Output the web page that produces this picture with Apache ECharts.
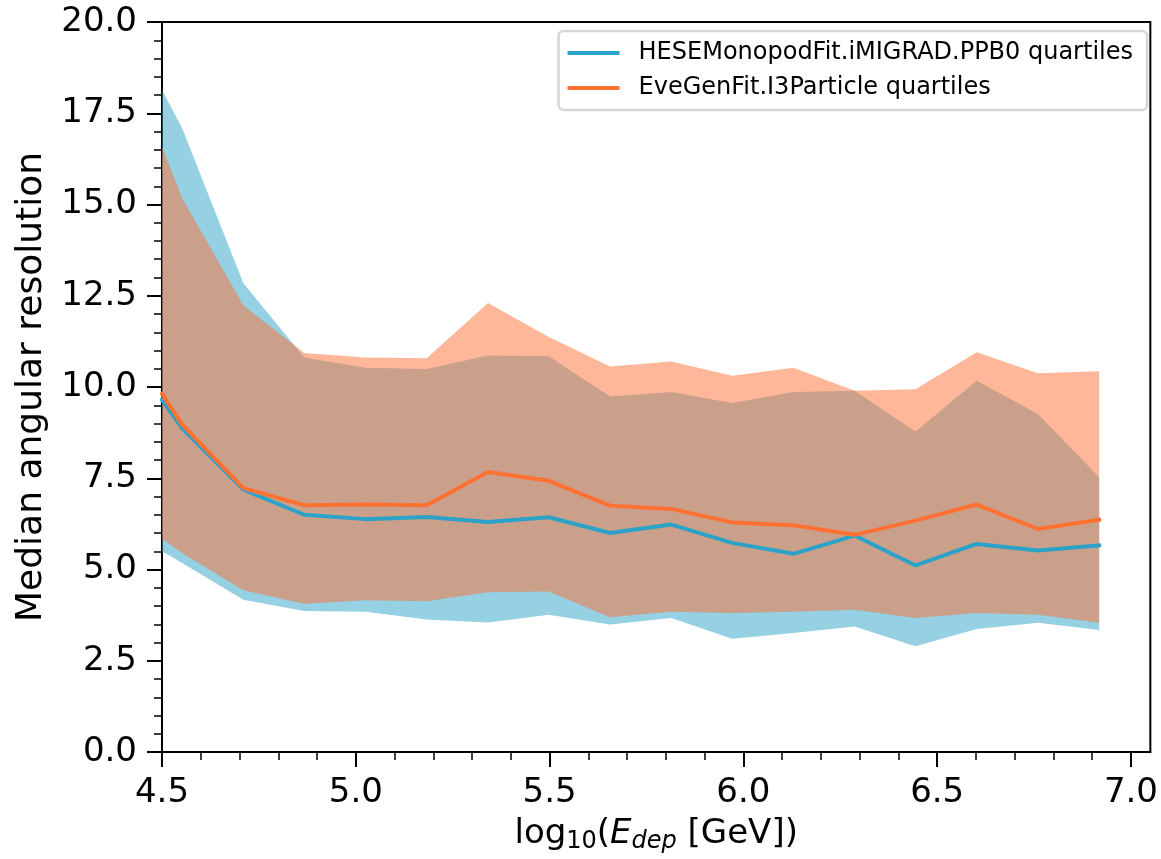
<!DOCTYPE html>
<html>
<head>
<meta charset="utf-8">
<title>Median angular resolution</title>
<script src="https://cdn.jsdelivr.net/npm/echarts@6/dist/echarts.min.js"></script>
<style>
  html, body { margin: 0; padding: 0; background: #ffffff; }
  #chart { width: 1161px; height: 859px; }
</style>
</head>
<body>
<div id="chart"></div>
<script>
// log10 of deposited energy at each bin centre
const logE = [4.5, 4.552, 4.710, 4.867, 5.025, 5.183, 5.341, 5.498, 5.656,
              5.814, 5.971, 6.129, 6.287, 6.444, 6.602, 6.760, 6.918];

// HESEMonopodFit.iMIGRAD.PPB0: 25%, 50%, 75% quantiles
const heseLow = [5.50, 5.18, 4.17, 3.86, 3.84, 3.63, 3.55, 3.76, 3.49,
                 3.67, 3.10, 3.26, 3.44, 2.90, 3.37, 3.54, 3.34];
const heseMed = [9.65, 8.87, 7.19, 6.50, 6.38, 6.44, 6.30, 6.43, 6.00,
                 6.23, 5.73, 5.43, 5.93, 5.11, 5.70, 5.52, 5.66];
const heseHigh = [18.14, 17.09, 12.84, 10.81, 10.53, 10.49, 10.86, 10.84, 9.74,
                  9.86, 9.56, 9.86, 9.90, 8.78, 10.17, 9.26, 7.53];

// EveGenFit.I3Particle: 25%, 50%, 75% quantiles
const eveLow = [5.84, 5.45, 4.43, 4.06, 4.16, 4.13, 4.38, 4.40, 3.69,
                3.84, 3.81, 3.84, 3.90, 3.67, 3.81, 3.76, 3.54];
const eveMed = [9.81, 8.97, 7.23, 6.76, 6.78, 6.76, 7.67, 7.43, 6.75,
                6.66, 6.29, 6.21, 5.95, 6.34, 6.78, 6.11, 6.36];
const eveHigh = [16.58, 15.17, 12.23, 10.93, 10.81, 10.79, 12.30, 11.37, 10.56,
                 10.70, 10.31, 10.53, 9.90, 9.94, 10.95, 10.38, 10.43];

const xTicks = [4.5, 5.0, 5.5, 6.0, 6.5, 7.0];

const HESE_NAME = 'HESEMonopodFit.iMIGRAD.PPB0 quartiles';
const EVE_NAME = 'EveGenFit.I3Particle quartiles';
const HESE_COLOR = '#2ca2c8';
const EVE_COLOR = '#ff7033';
const FONT = 'DejaVu Sans';

const pairs = (xs, ys) => xs.map((x, i) => [x, ys[i]]);

// quartile band drawn as one filled polygon: upper edge forward, lower edge back
function band(id, low, high, color) {
  const rows = logE.map((x, i) => [x, low[i], high[i]]);
  return {
    name: id, type: 'custom', silent: true,
    data: rows,
    encode: { x: 0, y: [1, 2] },
    renderItem: function (params, api) {
      if (params.dataIndex !== 0) return null;
      const pts = [];
      for (let i = 0; i < rows.length; i++) pts.push(api.coord([rows[i][0], rows[i][2]]));
      for (let i = rows.length - 1; i >= 0; i--) pts.push(api.coord([rows[i][0], rows[i][1]]));
      return {
        type: 'polygon',
        shape: { points: pts },
        style: { fill: color, opacity: 0.5, stroke: null }
      };
    }
  };
}

function medianLine(name, values, color) {
  return {
    name: name, type: 'line', data: pairs(logE, values), symbol: 'none',
    color: color, lineStyle: { color: color, width: 4, cap: 'square' }
  };
}

const chart = echarts.init(document.getElementById('chart'), null, { renderer: 'canvas' });

chart.setOption({
  animation: false,
  backgroundColor: '#ffffff',
  grid: {
    left: 162, right: 9, top: 22, bottom: 106.5,
    show: true, borderColor: '#000000', borderWidth: 2, backgroundColor: 'transparent'
  },
  legend: {
    data: [HESE_NAME, EVE_NAME],
    orient: 'vertical',
    right: 14, top: 31,
    padding: [9, 14, 9, 9],
    itemGap: 9,
    itemWidth: 52, itemHeight: 4,
    icon: 'rect',
    backgroundColor: 'rgba(255,255,255,0.8)',
    borderColor: '#d6d6d6', borderWidth: 2.5, borderRadius: 5,
    textStyle: {
      fontFamily: FONT, fontSize: 24, color: '#000000',
      lineHeight: 26, padding: [0, 0, 0, 14]
    }
  },
  xAxis: {
    type: 'value',
    min: 4.5, max: 7.05, interval: 0.5,
    name: '{t|log}{s|10}{t|(}{i|E}{si|dep}{t| [GeV])}',
    nameLocation: 'middle',
    nameGap: 62,
    nameTextStyle: {
      rich: {
        t: { fontFamily: FONT, fontSize: 34, color: '#000', lineHeight: 40 },
        s: { fontFamily: FONT, fontSize: 24, color: '#000', lineHeight: 24, verticalAlign: 'bottom' },
        i: { fontFamily: FONT, fontSize: 34, fontStyle: 'italic', color: '#000', lineHeight: 40 },
        si: { fontFamily: FONT, fontSize: 24, fontStyle: 'italic', color: '#000', lineHeight: 24, verticalAlign: 'bottom' }
      }
    },
    axisLine: { show: true, onZero: false, lineStyle: { color: '#000', width: 2 } },
    axisTick: { show: true, inside: false, length: 15, lineStyle: { color: '#000', width: 2 }, customValues: xTicks },
    minorTick: { show: true, splitNumber: 5, length: 8, lineStyle: { color: '#000', width: 1.5 } },
    axisLabel: {
      customValues: xTicks,
      margin: 24, fontFamily: FONT, fontSize: 34, color: '#000',
      formatter: v => v.toFixed(1)
    },
    splitLine: { show: false },
    minorSplitLine: { show: false }
  },
  yAxis: {
    type: 'value',
    min: 0, max: 20, interval: 2.5,
    name: 'Median angular resolution',
    nameLocation: 'middle',
    nameRotate: 90,
    nameGap: 112,
    nameTextStyle: { fontFamily: FONT, fontSize: 36, color: '#000' },
    axisLine: { show: true, onZero: false, lineStyle: { color: '#000', width: 2 } },
    axisTick: { show: true, inside: false, length: 15, lineStyle: { color: '#000', width: 2 } },
    minorTick: { show: true, splitNumber: 5, length: 8, lineStyle: { color: '#000', width: 1.5 } },
    axisLabel: {
      margin: 25, fontFamily: FONT, fontSize: 34, color: '#000',
      formatter: v => v.toFixed(1)
    },
    splitLine: { show: false },
    minorSplitLine: { show: false }
  },
  series: [
    band('hese-band', heseLow, heseHigh, HESE_COLOR),
    band('eve-band', eveLow, eveHigh, EVE_COLOR),
    medianLine(HESE_NAME, heseMed, HESE_COLOR),
    medianLine(EVE_NAME, eveMed, EVE_COLOR)
  ]
});
</script>
</body>
</html>
